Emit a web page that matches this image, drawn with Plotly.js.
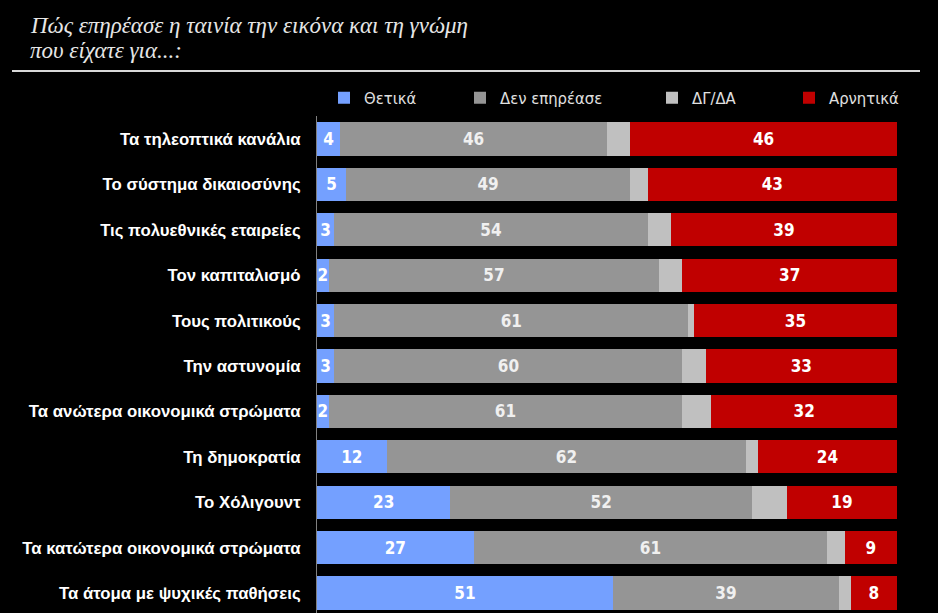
<!DOCTYPE html>
<html>
<head>
<meta charset="utf-8">
<script src="https://cdn.plot.ly/plotly-3.0.1.min.js"></script>
<style>html,body{margin:0;padding:0;background:#000;}#chart{width:938px;height:613px;}</style>
</head>
<body>
<div id="chart"></div>
<script>
const categories = [
  "Τα τηλεοπτικά κανάλια",
  "Το σύστημα δικαιοσύνης",
  "Τις πολυεθνικές εταιρείες",
  "Τον καπιταλισμό",
  "Τους πολιτικούς",
  "Την αστυνομία",
  "Τα ανώτερα οικονομικά στρώματα",
  "Τη δημοκρατία",
  "Το Χόλιγουντ",
  "Τα κατώτερα οικονομικά στρώματα",
  "Τα άτομα με ψυχικές παθήσεις"
];
const seriesNames = ["Θετικά", "Δεν επηρέασε", "ΔΓ/ΔΑ", "Αρνητικά"];
const positive   = [4, 5, 3, 2, 3, 3, 2, 12, 23, 27, 51];
const noEffect   = [46, 49, 54, 57, 61, 60, 61, 62, 52, 61, 39];
const dkna       = [4, 3, 4, 4, 1, 4, 5, 2, 6, 3, 2];
const negative   = [46, 43, 39, 37, 35, 33, 32, 24, 19, 9, 8];
const titleLines = ["Πώς επηρέασε η ταινία την εικόνα και τη γνώμη", "που είχατε για...:"];

const colors = ["#74a0ff", "#959595", "#c0c0c0", "#c00000"];
const textColors = ["#ffffff", "#f0f0f0", "#ffffff", "#ffffff"];
const narrow = "DejaVu Sans Condensed, Liberation Sans, sans-serif";
const values = [positive, noEffect, dkna, negative];
const legendPx = [324, 460, 652, 789];
const legendIds = ["legend", "legend2", "legend3", "legend4"];

const traces = values.map((v, i) => ({
  type: "bar",
  orientation: "h",
  name: seriesNames[i],
  legend: legendIds[i],
  y: categories,
  x: v,
  marker: {color: colors[i], line: {width: 0}},
  text: i === 2 ? null : v.map(String),
  texttemplate: i === 2 ? "" : "%{text}",
  textposition: i === 2 ? "none" : "inside",
  insidetextanchor: "middle",
  textangle: 0,
  constraintext: "none",
  textfont: {family: narrow, size: 17, color: textColors[i], weight: "bold"},
  hoverinfo: "name+x"
}));

const titleFont = {family: "Liberation Serif, DejaVu Serif, serif", size: 23, style: "italic", color: "#e6e6e6"};

const layout = {
  width: 938, height: 613,
  paper_bgcolor: "#000000", plot_bgcolor: "#000000",
  margin: {l: 317, r: 41, t: 116, b: 0},
  barmode: "stack",
  bargap: 0.27,
  uniformtext: {mode: "show", minsize: 17},
  xaxis: {range: [0, 100], visible: false, fixedrange: true},
  yaxis: {
    type: "category",
    range: [10.44, -0.507],
    showline: true, linecolor: "#808080", linewidth: 1,
    showgrid: false, zeroline: false,
    ticks: "outside", ticklen: 12, tickcolor: "rgba(0,0,0,0)",
    tickfont: {family: "Liberation Sans, Arial, sans-serif", size: 16.8, color: "#ffffff", weight: "bold"}
  },
  showlegend: true,
  annotations: [
    {text: titleLines[0], xref: "paper", yref: "paper", x: (28 - 317) / 580, y: (613 - 26) / 497,
     xanchor: "left", yanchor: "middle", showarrow: false, font: titleFont},
    {text: titleLines[1], xref: "paper", yref: "paper", x: (28 - 317) / 580, y: (613 - 51) / 497,
     xanchor: "left", yanchor: "middle", showarrow: false, font: titleFont}
  ],
  shapes: [{
    type: "line", xref: "paper", yref: "paper",
    x0: (12 - 317) / 580, x1: (920 - 317) / 580,
    y0: (613 - 71) / 497, y1: (613 - 71) / 497,
    line: {color: "#d9d9d9", width: 2}
  }]
};
legendIds.forEach((id, i) => {
  layout[id] = {
    orientation: "h",
    x: (legendPx[i] - 317) / 580, xanchor: "left",
    y: (613 - 98) / 497, yanchor: "middle",
    font: {family: narrow, size: 16.5, color: "#e0e0e0"},
    bgcolor: "rgba(0,0,0,0)"
  };
});

Plotly.newPlot("chart", traces, layout, {displayModeBar: false, staticPlot: true});
</script>
</body>
</html>
